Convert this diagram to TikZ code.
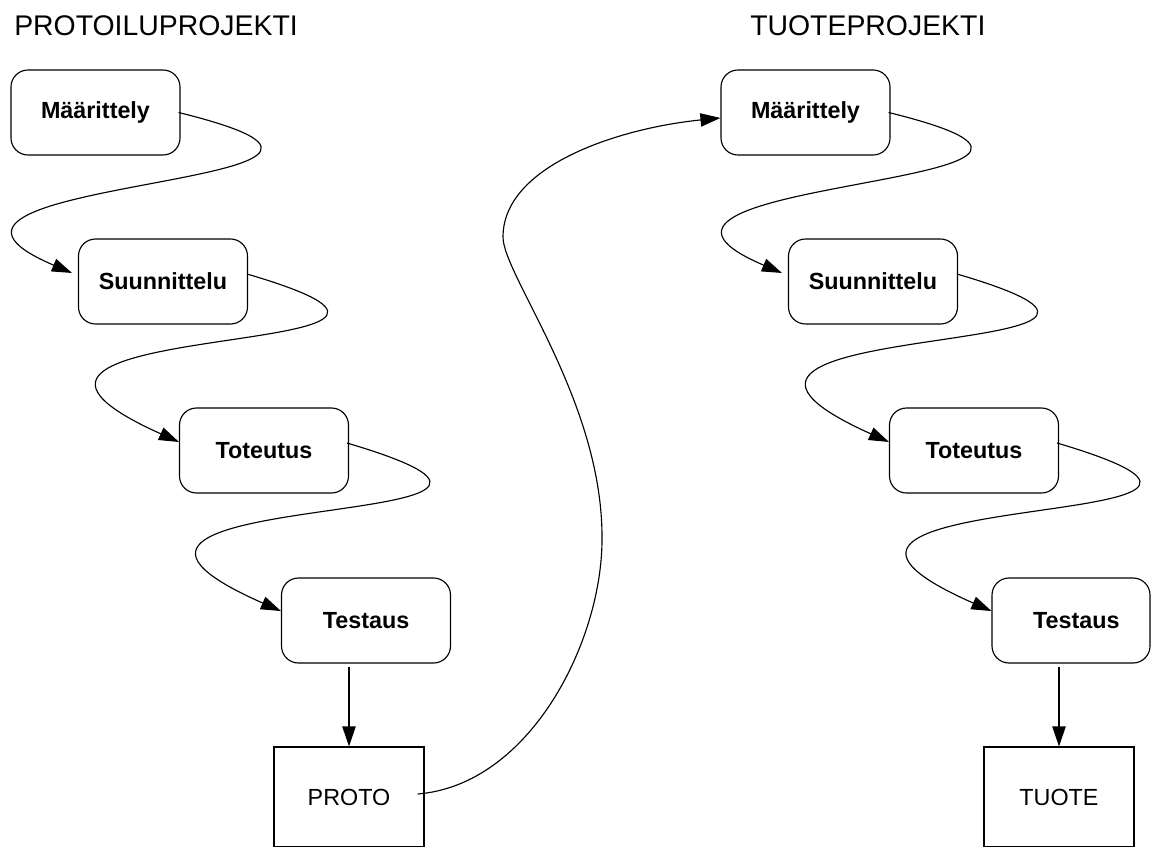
\documentclass[tikz,border=0pt]{standalone}
\usepackage{fontspec}
\setmainfont{Liberation Sans}
\usetikzlibrary{arrows.meta}
\begin{document}
\begin{tikzpicture}[x=0.75pt,y=-0.75pt,
  phase/.style={draw, line width=0.85pt, rounded corners=12.75pt,
    minimum width=126.75pt, minimum height=63.75pt, inner sep=0pt,
    font=\fontsize{17.5pt}{21pt}\selectfont\bfseries},
  result/.style={draw, line width=0.85pt, minimum width=112.5pt,
    minimum height=75pt, inner sep=0pt,
    font=\fontsize{17.5pt}{21pt}\selectfont},
  heading/.style={anchor=base west, inner sep=0pt,
    font=\fontsize{21.3pt}{25pt}\selectfont},
  flow/.style={line width=0.85pt, -{Triangle[length=15pt,width=10pt]}}
]
\useasboundingbox (0,0) rectangle (1151,846);
\clip (0,0) rectangle (1151,846);

% headings
\node[heading] (h1) at (14,35) {PROTOILUPROJEKTI};
\node[heading] (h2) at (750,35) {TUOTEPROJEKTI};

% prototyping project
\node[phase] (M1) at (95.5,112.5) {Määrittely};
\node[phase] (S1) at (163,281.5) {Suunnittelu};
\node[phase] (T1) at (264,450.5) {Toteutus};
\node[phase] (E1) at (366,620.5) {Testaus};
\node[result] (P1) at (349,797) {PROTO};

% product project
\node[phase] (M2) at (805.5,112.5) {Määrittely};
\node[phase] (S2) at (873,281.5) {Suunnittelu};
\node[phase] (T2) at (974,450.5) {Toteutus};
\node[phase, minimum width=118.5pt] (E2) at (1071,620.5) {\hspace*{8pt}Testaus};
\node[result] (P2) at (1059,797) {TUOTE};

% phase to phase, left column
\draw[flow] ([xshift=-1.5pt]M1.east) .. controls +(301,74) and +(-225,-96) .. ([xshift=-4.5pt,yshift=6.4pt]S1.west);
\draw[flow] ([xshift=-0.75pt,yshift=5.6pt]S1.east) .. controls +(300,88) and +(-285,-128) .. ([yshift=6.4pt]T1.west);
\draw[flow] ([xshift=-1.5pt,yshift=5.6pt]T1.east) .. controls +(307,91) and +(-291,-128) .. ([yshift=7.1pt]E1.west);
\draw[flow, shorten <=2.25pt] (E1.south -| P1.north) -- (P1.north);

% phase to phase, right column
\draw[flow] ([xshift=-1.5pt]M2.east) .. controls +(301,74) and +(-225,-96) .. ([xshift=-4.5pt,yshift=6.4pt]S2.west);
\draw[flow] ([xshift=-0.75pt,yshift=5.6pt]S2.east) .. controls +(300,88) and +(-285,-128) .. ([yshift=6.4pt]T2.west);
\draw[flow] ([xshift=-1.5pt,yshift=5.6pt]T2.east) .. controls +(307,91) and +(-291,-128) .. ([yshift=7.1pt]E2.west);
\draw[flow, shorten <=2.25pt] (E2.south -| P2.north) -- (P2.north);

% prototype feeds the product definition
\coordinate (w1) at (602,537);
\coordinate (w2) at (503,237);
\draw[flow] ([xshift=-5.25pt,yshift=2.25pt]P1.east)
  .. controls +(113,-9) and +(1,103) .. (w1)
  .. controls +(0,-137) and +(0,38) .. (w2)
  .. controls +(0,-72) and +(-100,10) .. ([yshift=-4.1pt]M2.west);
\end{tikzpicture}
\end{document}
